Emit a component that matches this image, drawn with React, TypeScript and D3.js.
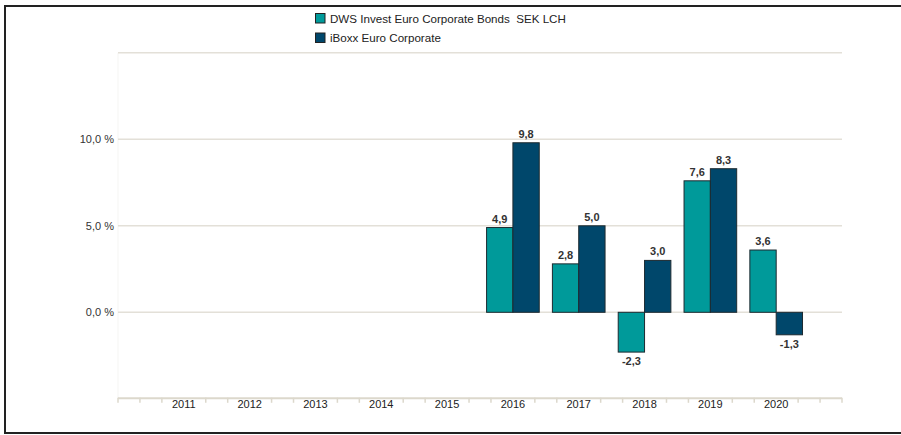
import React from "react";
import * as d3 from "d3";

const years = ["2011", "2012", "2013", "2014", "2015", "2016", "2017", "2018", "2019", "2020"];
const fundValues: (number | null)[] = [null, null, null, null, null, 4.9, 2.8, -2.3, 7.6, 3.6];
const benchValues: (number | null)[] = [null, null, null, null, null, 9.8, 5.0, 3.0, 8.3, -1.3];
const seriesNames = ["DWS Invest Euro Corporate Bonds  SEK LCH", "iBoxx Euro Corporate"];
const seriesColors = ["#009a9a", "#00476b"];
const yTicks = [0, 5, 10];
const gridTicks = [0, 5, 10, 15];

const W = 901;
const H = 435;
const left = 118;
const right = 842;
const yTop = 52.8;
const yBottom = 398.8;

export default function App() {
  const x = d3.scalePoint<string>().domain(years).range([left, right]).padding(1);
  const step = x.step();
  const y = d3.scaleLinear().domain([-5, 15]).range([yBottom, yTop]);
  const barW = step * 0.4;
  const fmt = (v: number) => v.toFixed(1).replace(".", ",");

  const tickXs: number[] = [];
  const nTicks = Math.round((right - left) / (step / 3));
  for (let i = 0; i <= nTicks; i++) {
    if (i % 3 === 0 && i > 0 && i < nTicks) continue;
    tickXs.push(left + (i * step) / 3);
  }

  const series = [fundValues, benchValues];

  return (
    <svg width={W} height={H} style={{ position: "absolute", left: 0, top: 0, fontFamily: "'Liberation Sans', Arial, sans-serif" }}>
      <rect x={0} y={0} width={W} height={H} fill="#fff" />
      <path d={`M${W + 5},6 H5 V433 H${W + 5}`} fill="none" stroke="#222" strokeWidth={2} />

      {seriesNames.map((n, i) => (
        <g key={n} transform={`translate(315, ${13 + i * 19.5})`}>
          <rect x={0.5} y={0.5} width={9.5} height={9.5} fill={seriesColors[i]} stroke="#222" strokeWidth={1} />
          <text x={15} y={9.5} fontSize={11.6} fill="#222" style={{ whiteSpace: "pre" }}>{n}</text>
        </g>
      ))}

      <line x1={left} x2={left} y1={yTop} y2={yBottom} stroke="#f5f5f3" strokeWidth={1} />

      {gridTicks.map((t) => (
        <line key={t} x1={left} x2={right} y1={y(t)} y2={y(t)} stroke="#e3e0d8" strokeWidth={1.5} />
      ))}
      {yTicks.map((t) => (
        <text key={t} x={114} y={y(t) + 4} fontSize={11} fill="#333" textAnchor="end">{fmt(t) + " %"}</text>
      ))}

      <line x1={left} x2={right} y1={yBottom - 0.5} y2={yBottom - 0.5} stroke="#dcd8cc" strokeWidth={2} />
      {tickXs.map((tx, i) => (
        <line key={i} x1={tx} x2={tx} y1={yBottom - 1} y2={yBottom + 4} stroke="#dcd8cc" strokeWidth={1.5} />
      ))}
      {years.map((yr) => (
        <text key={yr} x={x(yr)!} y={408} fontSize={11} fill="#222" textAnchor="middle">{yr}</text>
      ))}

      {series.map((vals, si) =>
        vals.map((v, i) => {
          if (v === null) return null;
          const cx = x(years[i])!;
          const bx = cx - barW + si * barW;
          const y0 = y(0);
          const y1 = y(v);
          const top = Math.min(y0, y1);
          const h = Math.abs(y1 - y0);
          return (
            <g key={`${si}-${i}`}>
              <rect x={bx} y={top} width={barW} height={h} fill={seriesColors[si]} stroke="#1d2a30" strokeWidth={1} />
              <text
                x={bx + barW / 2}
                y={v >= 0 ? y1 - 5 : y1 + 13}
                fontSize={11}
                fontWeight="bold"
                fill="#333"
                textAnchor="middle"
              >
                {fmt(v)}
              </text>
            </g>
          );
        })
      )}
    </svg>
  );
}
